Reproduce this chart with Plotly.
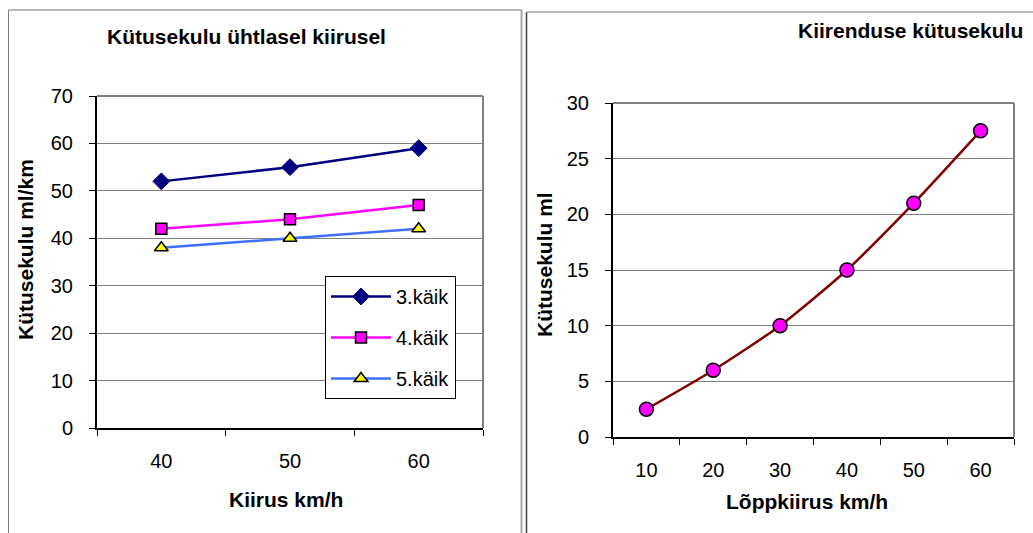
import plotly.graph_objects as go

# ---- data ----
speed_cats = ["40", "50", "60"]
gear3 = [52, 55, 59]
gear4 = [42, 44, 47]
gear5 = [38, 40, 42]
series_names = ["3.käik", "4.käik", "5.käik"]

final_speed_cats = ["10", "20", "30", "40", "50", "60"]
accel_fuel = [2.5, 6, 10, 15, 21, 27.5]

left_title = "Kütusekulu ühtlasel kiirusel"
left_ytitle = "Kütusekulu ml/km"
left_xtitle = "Kiirus km/h"
right_title = "Kiirenduse kütusekulu"
right_ytitle = "Kütusekulu ml"
right_xtitle = "Lõppkiirus km/h"

W, H = 1033, 533
FONT = "Arial, Liberation Sans, sans-serif"

def px(x):
    return x / W

def py(y):
    return 1 - y / H

fig = go.Figure()

fig.add_trace(go.Scatter(
    x=speed_cats, y=gear3, name=series_names[0], mode="lines+markers",
    line=dict(color="#000080", width=2.5),
    marker=dict(symbol="diamond", size=13, color="#000080", line=dict(color="#000080", width=1)),
    xaxis="x", yaxis="y", legendgroup="a"))
fig.add_trace(go.Scatter(
    x=speed_cats, y=gear4, name=series_names[1], mode="lines+markers",
    line=dict(color="#FF00FF", width=2.5),
    marker=dict(symbol="square", size=11, color="#FF00FF", line=dict(color="#000000", width=1.5)),
    xaxis="x", yaxis="y", legendgroup="b"))
fig.add_trace(go.Scatter(
    x=speed_cats, y=gear5, name=series_names[2], mode="lines+markers",
    line=dict(color="#3F6FFF", width=2.5),
    marker=dict(symbol="triangle-up", size=12, color="#FFFF00", line=dict(color="#000000", width=1.5)),
    xaxis="x", yaxis="y", legendgroup="c"))

fig.add_trace(go.Scatter(
    x=final_speed_cats, y=accel_fuel, mode="lines+markers", showlegend=False,
    line=dict(color="#800000", width=2.5, shape="spline", smoothing=0.6),
    marker=dict(symbol="circle", size=14, color="#FF00FF", line=dict(color="#000000", width=1.5)),
    xaxis="x2", yaxis="y2"))

axis_common = dict(
    showline=True, linecolor="#000000", linewidth=2,
    ticks="outside", ticklen=6, tickcolor="#000000", tickwidth=1,
    tickfont=dict(family=FONT, size=20, color="#000000"),
    zeroline=False, fixedrange=True, automargin=False,
)

fig.update_layout(
    template="none",
    width=W, height=H,
    autosize=False,
    margin=dict(l=0, r=0, t=0, b=0, pad=0, autoexpand=False),
    paper_bgcolor="#FFFFFF", plot_bgcolor="#FFFFFF",
    font=dict(family=FONT, color="#000000"),
    xaxis=dict(domain=[px(97), px(483)], anchor="y", type="category",
               tickson="boundaries", showgrid=False, ticklabelstandoff=14,
               range=[-0.5, 2.5], **axis_common),
    yaxis=dict(domain=[py(428), py(96)], anchor="x", range=[0, 70], dtick=10,
               showgrid=True, gridcolor="#808080", gridwidth=1,
               ticklabelstandoff=12, **axis_common),
    xaxis2=dict(domain=[px(613), px(1014)], anchor="y2", type="category",
                tickson="boundaries", showgrid=False, ticklabelstandoff=14,
                range=[-0.5, 5.5], **axis_common),
    yaxis2=dict(domain=[py(437), py(103)], anchor="x2", range=[0, 30], dtick=5,
                showgrid=True, gridcolor="#808080", gridwidth=1,
                ticklabelstandoff=12, **axis_common),
    legend=dict(x=px(325), y=py(276), xanchor="left", yanchor="top",
                bordercolor="#000000", borderwidth=1, bgcolor="#FFFFFF",
                font=dict(family=FONT, size=20, color="#000000"),
                traceorder="grouped", tracegroupgap=12,
                itemwidth=60),
    showlegend=True,
)

# plot-area frames (top/right in grey) and outer chart borders
shapes = [
    dict(type="line", xref="x domain", yref="y domain", x0=0, x1=1, y0=1, y1=1,
         line=dict(color="#808080", width=2)),
    dict(type="line", xref="x domain", yref="y domain", x0=1, x1=1, y0=0, y1=1,
         line=dict(color="#808080", width=2)),
    dict(type="line", xref="x2 domain", yref="y2 domain", x0=0, x1=1, y0=1, y1=1,
         line=dict(color="#808080", width=2)),
    dict(type="line", xref="x2 domain", yref="y2 domain", x0=1, x1=1, y0=0, y1=1,
         line=dict(color="#808080", width=2)),
    # left chart border
    dict(type="line", xref="paper", yref="paper", x0=px(8.5), x1=px(8.5), y0=py(10), y1=py(540),
         line=dict(color="#808080", width=1)),
    dict(type="line", xref="paper", yref="paper", x0=px(8.5), x1=px(522), y0=py(10), y1=py(10),
         line=dict(color="#A0A0A0", width=1.5)),
    dict(type="line", xref="paper", yref="paper", x0=px(521.5), x1=px(521.5), y0=py(10), y1=py(540),
         line=dict(color="#A8A8A8", width=2)),
    # right chart border
    dict(type="line", xref="paper", yref="paper", x0=px(526.5), x1=px(526.5), y0=py(12), y1=py(540),
         line=dict(color="#404040", width=1.5)),
    dict(type="line", xref="paper", yref="paper", x0=px(526.5), x1=px(1040), y0=py(12), y1=py(12),
         line=dict(color="#A0A0A0", width=1.5)),
]
fig.update_layout(shapes=shapes)

title_font = dict(family=FONT, size=21, color="#000000")
ann = [
    dict(text="<b>%s</b>" % left_title, x=px(246), y=py(37)),
    dict(text="<b>%s</b>" % left_xtitle, x=px(286), y=py(499)),
    dict(text="<b>%s</b>" % left_ytitle, x=px(25), y=py(250), textangle=-90),
    dict(text="<b>%s</b>" % right_title, x=px(910), y=py(30)),
    dict(text="<b>%s</b>" % right_xtitle, x=px(807), y=py(501)),
    dict(text="<b>%s</b>" % right_ytitle, x=px(544), y=py(265), textangle=-90),
]
for a in ann:
    a.update(xref="paper", yref="paper", showarrow=False, font=title_font,
             xanchor="center", yanchor="middle")
fig.update_layout(annotations=ann)

fig.write_html("out.html", config={"responsive": False})
